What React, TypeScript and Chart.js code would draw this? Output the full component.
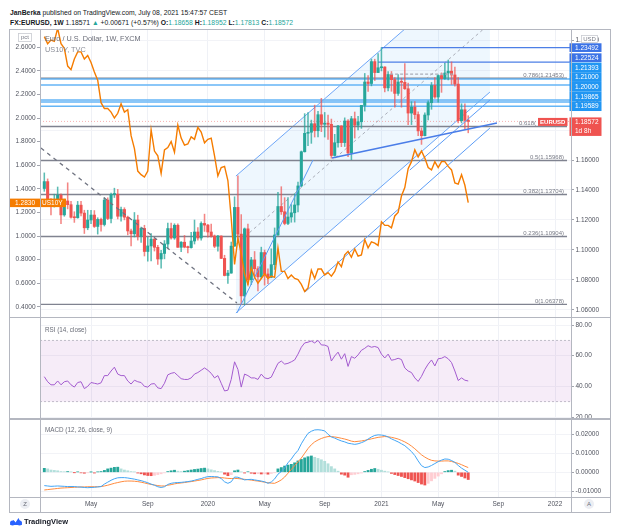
import React, { useEffect, useRef } from 'react';
import { Chart, registerables } from 'chart.js';

Chart.register(...registerables);

const FONT = '"Liberation Sans", Arial, sans-serif';

// ---------- time axis (week index 0 = week of 2019-01-28) ----------
const timeTickWeeks = [14, 31, 49, 66, 84, 101, 118, 136, 153];
const timeTickLabels = ['May', 'Sep', '2020', 'May', 'Sep', '2021', 'May', 'Sep', '2022'];

// ---------- EURUSD weekly candles ----------
const eurOpen = [
  1.1410, 1.1456, 1.1324, 1.1295, 1.1336, 1.1365, 1.1234, 1.1327, 1.1302, 1.1218,
  1.1215, 1.1299, 1.1246, 1.1148, 1.1200, 1.1233, 1.1157, 1.1204, 1.1170, 1.1333,
  1.1210, 1.1370, 1.1372, 1.1225, 1.1270, 1.1219, 1.1127, 1.1108, 1.1200, 1.1090,
  1.1144, 1.0990, 1.1027, 1.1073, 1.1018, 1.0940, 1.0977, 1.1040, 1.1143, 1.1080,
  1.1165, 1.1018, 1.1052, 1.1019, 1.1016, 1.1060, 1.1120, 1.1080, 1.1177, 1.1166,
  1.1120, 1.1093, 1.1025, 1.1093, 1.0944, 1.0830, 1.0846, 1.1026, 1.1284, 1.1106,
  1.0694, 1.1141, 1.0802, 1.0934, 1.0875, 1.0821, 1.0983, 1.0840, 1.0818, 1.0902,
  1.1100, 1.1290, 1.1255, 1.1177, 1.1220, 1.1248, 1.1300, 1.1427, 1.1655, 1.1778,
  1.1785, 1.1842, 1.1795, 1.1902, 1.1838, 1.1846, 1.1838, 1.1630, 1.1715, 1.1827,
  1.1716, 1.1860, 1.1647, 1.1875, 1.1832, 1.1855, 1.1964, 1.2120, 1.2110, 1.2256,
  1.2183, 1.2215, 1.2220, 1.2081, 1.2170, 1.2136, 1.2044, 1.2120, 1.2118, 1.2075,
  1.1913, 1.1952, 1.1903, 1.1794, 1.1762, 1.1900, 1.1982, 1.2097, 1.2020, 1.2163,
  1.2143, 1.2180, 1.2192, 1.2167, 1.2106, 1.1862, 1.1935, 1.18658,
];
const eurHigh = [
  1.1514, 1.1474, 1.1342, 1.1372, 1.1420, 1.1374, 1.1339, 1.1448, 1.1325, 1.1255,
  1.1324, 1.1324, 1.1265, 1.1265, 1.1264, 1.1263, 1.1215, 1.1212, 1.1348, 1.1348,
  1.1380, 1.1412, 1.1404, 1.1286, 1.1282, 1.1226, 1.1139, 1.1250, 1.1232, 1.1153,
  1.1165, 1.1085, 1.1110, 1.1075, 1.1031, 1.0997, 1.1063, 1.1179, 1.1179, 1.1175,
  1.1175, 1.1056, 1.1097, 1.1026, 1.1117, 1.1200, 1.1150, 1.1188, 1.1239, 1.1171,
  1.1173, 1.1100, 1.1097, 1.1095, 1.0965, 1.0864, 1.1053, 1.1355, 1.1495, 1.1236,
  1.1147, 1.1173, 1.0951, 1.0990, 1.0889, 1.1019, 1.1000, 1.0875, 1.1008, 1.1147,
  1.1384, 1.1422, 1.1349, 1.1349, 1.1303, 1.1375, 1.1452, 1.1660, 1.1909, 1.1916,
  1.1866, 1.1966, 1.1925, 1.2011, 1.1917, 1.1900, 1.1873, 1.1771, 1.1831, 1.1829,
  1.1881, 1.1870, 1.1891, 1.1920, 1.1891, 1.1964, 1.2177, 1.2163, 1.2273, 1.2272,
  1.2310, 1.2349, 1.2222, 1.2190, 1.2190, 1.2150, 1.2169, 1.2145, 1.2243, 1.2112,
  1.1989, 1.1990, 1.1921, 1.1814, 1.1914, 1.1994, 1.2117, 1.2150, 1.2167, 1.2181,
  1.2245, 1.2266, 1.2254, 1.2219, 1.2150, 1.1975, 1.1975, 1.18952,
];
const eurLow = [
  1.1391, 1.1320, 1.1234, 1.1286, 1.1331, 1.1176, 1.1225, 1.1274, 1.1213, 1.1184,
  1.1212, 1.1227, 1.1110, 1.1135, 1.1176, 1.1150, 1.1106, 1.1125, 1.1160, 1.1202,
  1.1181, 1.1350, 1.1207, 1.1193, 1.1201, 1.1101, 1.1027, 1.1087, 1.1066, 1.1051,
  1.0960, 1.0926, 1.0927, 1.0993, 1.0904, 1.0879, 1.0941, 1.1012, 1.1072, 1.1071,
  1.1018, 1.0989, 1.1014, 1.0981, 1.1012, 1.1040, 1.1066, 1.1066, 1.1124, 1.1086,
  1.1086, 1.1015, 1.0992, 1.0942, 1.0827, 1.0778, 1.0845, 1.1024, 1.1053, 1.0636,
  1.0637, 1.0768, 1.0769, 1.0812, 1.0727, 1.0809, 1.0766, 1.0775, 1.0815, 1.0870,
  1.1097, 1.1237, 1.1168, 1.1169, 1.1185, 1.1186, 1.1254, 1.1421, 1.1653, 1.1696,
  1.1711, 1.1753, 1.1754, 1.1789, 1.1753, 1.1737, 1.1612, 1.1626, 1.1686, 1.1689,
  1.1690, 1.1622, 1.1602, 1.1746, 1.1800, 1.1811, 1.1926, 1.2058, 1.2094, 1.2130,
  1.2182, 1.2194, 1.2054, 1.2060, 1.2058, 1.1952, 1.2030, 1.1952, 1.2070, 1.1835,
  1.1836, 1.1874, 1.1762, 1.1704, 1.1760, 1.1867, 1.1938, 1.2011, 1.1985, 1.2051,
  1.2137, 1.2134, 1.2104, 1.2093, 1.1847, 1.1847, 1.1807, 1.17813,
];
const eurClose = [
  1.1456, 1.1324, 1.1295, 1.1336, 1.1365, 1.1234, 1.1327, 1.1302, 1.1218, 1.1215,
  1.1299, 1.1246, 1.1148, 1.1200, 1.1233, 1.1157, 1.1204, 1.1170, 1.1333, 1.1210,
  1.1370, 1.1372, 1.1225, 1.1270, 1.1219, 1.1127, 1.1108, 1.1200, 1.1090, 1.1144,
  1.0990, 1.1027, 1.1073, 1.1018, 1.0940, 1.0977, 1.1040, 1.1143, 1.1080, 1.1165,
  1.1018, 1.1052, 1.1019, 1.1016, 1.1060, 1.1120, 1.1080, 1.1177, 1.1166, 1.1120,
  1.1093, 1.1025, 1.1093, 1.0944, 1.0830, 1.0846, 1.1026, 1.1284, 1.1106, 1.0694,
  1.1141, 1.0802, 1.0934, 1.0875, 1.0821, 1.0983, 1.0840, 1.0818, 1.0902, 1.1100,
  1.1290, 1.1255, 1.1177, 1.1220, 1.1248, 1.1300, 1.1427, 1.1655, 1.1778, 1.1785,
  1.1842, 1.1795, 1.1902, 1.1838, 1.1846, 1.1838, 1.1630, 1.1715, 1.1827, 1.1716,
  1.1860, 1.1647, 1.1875, 1.1832, 1.1855, 1.1964, 1.2120, 1.2110, 1.2256, 1.2183,
  1.2215, 1.2220, 1.2081, 1.2170, 1.2136, 1.2044, 1.2120, 1.2118, 1.2075, 1.1913,
  1.1952, 1.1903, 1.1794, 1.1762, 1.1900, 1.1982, 1.2097, 1.2020, 1.2163, 1.2143,
  1.2180, 1.2192, 1.2167, 1.2106, 1.1862, 1.1935, 1.1864, 1.18572,
];

// ---------- US10Y weekly (pct, left scale) ----------
const us10y = [
  2.69, 2.63, 2.66, 2.65, 2.76, 2.63, 2.59, 2.44, 2.41, 2.50,
  2.56, 2.56, 2.50, 2.53, 2.47, 2.39, 2.32, 2.13, 2.08, 2.08,
  2.05, 2.00, 2.04, 2.12, 2.05, 2.07, 1.85, 1.74, 1.55, 1.52,
  1.50, 1.55, 1.90, 1.72, 1.68, 1.53, 1.73, 1.75, 1.80, 1.71,
  1.94, 1.83, 1.77, 1.78, 1.84, 1.82, 1.92, 1.88, 1.79, 1.82,
  1.83, 1.68, 1.51, 1.58, 1.59, 1.47, 1.15, 0.76, 0.98, 0.85,
  0.68, 0.59, 0.73, 0.65, 0.60, 0.64, 0.68, 0.64, 0.66, 0.65,
  0.90, 0.70, 0.70, 0.64, 0.67, 0.64, 0.63, 0.59, 0.53, 0.56,
  0.71, 0.64, 0.72, 0.72, 0.67, 0.69, 0.66, 0.70, 0.78, 0.74,
  0.84, 0.87, 0.82, 0.89, 0.83, 0.84, 0.97, 0.90, 0.95, 0.94,
  0.92, 1.12, 1.09, 1.09, 1.07, 1.17, 1.20, 1.34, 1.41, 1.57,
  1.63, 1.73, 1.67, 1.72, 1.66, 1.58, 1.56, 1.63, 1.58, 1.63,
  1.63, 1.59, 1.56, 1.45, 1.44, 1.52, 1.43, 1.283,
];

// ---------- RSI(14) ----------
const rsi = [
  46.3, 43, 41, 41, 43.5, 41, 43, 43.5, 41, 39.5,
  42.5, 43, 38.5, 40, 42.5, 42, 41.5, 42.3, 47, 47,
  50, 52.5, 48, 47, 47, 43.5, 41.5, 44, 43, 42.5,
  40, 39.5, 41.5, 41.8, 39, 38.5, 42, 47.5, 48.5, 49,
  47, 45, 44.5, 44.5, 45.5, 48, 49, 50.5, 52, 50.5,
  48.5, 45.5, 47, 42, 37, 37.5, 44.5, 56, 51, 39.5,
  48, 47, 45.5, 45.5, 44.5, 48, 45.5, 45, 46, 50.5,
  55, 56.5, 54.5, 55, 56, 57.2, 61, 65.5, 68.3, 68.8,
  69.6, 68.3, 70, 67, 66.9, 66, 56.5, 59.8, 62.3, 57.7,
  61.3, 53, 59.4, 58.3, 60.5, 63.5, 64.8, 66.5, 65.5, 66,
  65.3, 61, 58.5, 61, 57, 57.5, 58.3, 57.5, 52, 50,
  49, 45.5, 43.2, 46.5, 51, 54.5, 57.2, 53.3, 58, 58.3,
  59.4, 58, 55.5, 50, 43.8, 45.5, 44, 43.5,
];

// ---------- MACD(12, 26, close, 9) ----------
const macdLine = [
  -0.0070, -0.0072, -0.0074, -0.0073, -0.0072, -0.0073, -0.0074, -0.0075, -0.0075, -0.0075,
  -0.0077, -0.0078, -0.0080, -0.0081, -0.0080, -0.0079, -0.0077, -0.0075, -0.0062, -0.0052,
  -0.0042, -0.0034, -0.0029, -0.0028, -0.0028, -0.0030, -0.0033, -0.0036, -0.0040, -0.0044,
  -0.0049, -0.0055, -0.0062, -0.0068, -0.0076, -0.0080, -0.0076, -0.0064, -0.0058, -0.0055,
  -0.0054, -0.0053, -0.0051, -0.0049, -0.0046, -0.0042, -0.0037, -0.0033, -0.0027, -0.0023,
  -0.0022, -0.0023, -0.0024, -0.0033, -0.0050, -0.0058, -0.0050, -0.0025, -0.0026, -0.0033,
  -0.0040, -0.0038, -0.0037, -0.0040, -0.0043, -0.0046, -0.0050, -0.0058, -0.0051, -0.0035,
  -0.0010, 0.0004, 0.0022, 0.0050, 0.0070, 0.0095, 0.0115, 0.0150, 0.0179, 0.0205,
  0.0216, 0.0223, 0.0224, 0.0222, 0.0218, 0.0200, 0.0186, 0.0180, 0.0172, 0.0165,
  0.0160, 0.0153, 0.0150, 0.0147, 0.0150, 0.0156, 0.0163, 0.0175, 0.0186, 0.0194,
  0.0197, 0.0196, 0.0193, 0.0186, 0.0176, 0.0168, 0.0160, 0.0150, 0.0140, 0.0125,
  0.0109, 0.0088, 0.0060, 0.0035, 0.0025, 0.0028, 0.0036, 0.0046, 0.0056, 0.0064,
  0.0070, 0.0069, 0.0062, 0.0052, 0.0036, 0.0022, 0.0011, 0.0000,
];
const macdSignal = [
  -0.0093, -0.0091, -0.0089, -0.0087, -0.0085, -0.0083, -0.0082, -0.0081, -0.0080, -0.0079,
  -0.0078, -0.0077, -0.0077, -0.0076, -0.0076, -0.0076, -0.0076, -0.0075, -0.0072, -0.0068,
  -0.0063, -0.0058, -0.0054, -0.0050, -0.0047, -0.0046, -0.0046, -0.0047, -0.0049, -0.0052,
  -0.0056, -0.0060, -0.0064, -0.0067, -0.0070, -0.0072, -0.0072, -0.0068, -0.0065, -0.0061,
  -0.0058, -0.0056, -0.0054, -0.0051, -0.0049, -0.0046, -0.0043, -0.0040, -0.0036, -0.0032,
  -0.0030, -0.0029, -0.0028, -0.0028, -0.0030, -0.0032, -0.0033, -0.0032, -0.0033, -0.0035,
  -0.0037, -0.0039, -0.0041, -0.0044, -0.0046, -0.0049, -0.0052, -0.0055, -0.0057, -0.0058,
  -0.0050, -0.0040, -0.0025, -0.0005, 0.0015, 0.0035, 0.0055, 0.0075, 0.0100, 0.0125,
  0.0145, 0.0160, 0.0170, 0.0178, 0.0184, 0.0188, 0.0188, 0.0186, 0.0183, 0.0179,
  0.0175, 0.0170, 0.0164, 0.0161, 0.0163, 0.0165, 0.0168, 0.0172, 0.0176, 0.0180,
  0.0184, 0.0186, 0.0188, 0.0187, 0.0184, 0.0180, 0.0175, 0.0168, 0.0160, 0.0150,
  0.0138, 0.0124, 0.0108, 0.0092, 0.0080, 0.0070, 0.0063, 0.0060, 0.0059, 0.0059,
  0.0060, 0.0060, 0.0057, 0.0052, 0.0047, 0.0040, 0.0032, 0.0025,
];
const macdHist = [
  0.0021, 0.0018, 0.0012, 0.0010, 0.0008, 0.0004, 0.0003, 0.0004, 0.0002, -0.0001,
  0.0002, -0.0003, -0.0005, -0.0002, 0.0001, -0.0004, 0.0002, 0.0004, 0.0010, 0.0018,
  0.0022, 0.0026, 0.0027, 0.0018, 0.0012, 0.0008, 0.0004, 0.0002, -0.0004, -0.0008,
  -0.0014, -0.0017, -0.0018, -0.0016, -0.0012, -0.0008, -0.0003, 0.0004, 0.0008, 0.0011,
  0.0006, 0.0004, 0.0006, 0.0009, 0.0012, 0.0015, 0.0017, 0.0020, 0.0022, 0.0018,
  0.0013, 0.0009, 0.0005, 0.0002, -0.0010, -0.0018, -0.0012, 0.0008, 0.0012, 0.0002,
  -0.0004, 0.0003, -0.0005, -0.0008, -0.0007, -0.0009, -0.0008, -0.0010, -0.0006, -0.0002,
  0.0018, 0.0025, 0.0033, 0.0038, 0.0042, 0.0050, 0.0060, 0.0068, 0.0076, 0.0082,
  0.0086, 0.0079, 0.0073, 0.0066, 0.0058, 0.0045, 0.0030, 0.0018, 0.0006, -0.0010,
  -0.0015, -0.0026, -0.0013, -0.0011, -0.0008, -0.0004, 0.0004, 0.0010, 0.0016, 0.0020,
  0.0016, 0.0011, 0.0006, 0.0002, -0.0006, -0.0012, -0.0017, -0.0022, -0.0028, -0.0034,
  -0.0040, -0.0046, -0.0054, -0.0062, -0.0067, -0.0058, -0.0045, -0.0032, -0.0020, -0.0008,
  0.0004, 0.0009, 0.0011, 0.0006, -0.0015, -0.0022, -0.0030, -0.0038,
];

// ---------- axis ticks ----------
const usdTicks = [1.06, 1.08, 1.10, 1.12, 1.14, 1.16, 1.18, 1.20, 1.22, 1.24];
const pctTicks = [0.4, 0.6, 0.8, 1.0, 1.2, 1.4, 1.6, 1.8, 2.0, 2.2, 2.4, 2.6];
const rsiTicks = [20, 40, 60, 80];
const macdTicks = [-0.01, 0, 0.01, 0.02];

// ---------- user drawings: [week index, price] ----------
const fibRatios = ['0', '0.236', '0.382', '0.5', '0.618', '0.786'];
const fibPrices = [1.06378, 1.10904, 1.13704, 1.15968, 1.18231, 1.21453];
const levelPrices = [1.23492, 1.22524, 1.21393, 1.21, 1.2, 1.19865, 1.19589];
const levelStartWeeks = [101, 100, -2, -2, -2, -2, -2];
const channelUpper = [[57.4, 1.1493], [133.5, 1.2967]];
const channelLower = [[57.4, 1.058], [133.5, 1.2053]];
const channelMid = [[57.4, 1.1037], [133.5, 1.251]];
const downTrend = [[-1.0, 1.168], [57.7, 1.0647]];
const steepLine = [[57.7, 1.058], [80.5, 1.16]];
const supportLine = [[86.2, 1.1613], [135.6, 1.1847]];
const rangeTop = [[103.6, 1.2173], [123.0, 1.2173]];
const lowerRayA = [[78.1, 1.072], [133.5, 1.1813]];
const lowerRayB = [[109.5, 1.1533], [133.5, 1.2]];
const lastPrice = 1.18572;
const lastUs10y = 1.283;

// ---------- layout constants ----------
const X_MIN = -1.29;
const X_MAX = 157.79;
const FIB_END = 156.6;
const GREEN = '#26a69a';
const RED = '#ef5350';

const pts = (arr: number[][]) => arr.map((p) => ({ x: p[0], y: p[1] }));

function xScale(showLabels: boolean): any {
  return {
    type: 'linear',
    min: X_MIN,
    max: X_MAX,
    offset: false,
    afterBuildTicks: (s: any) => {
      s.ticks = timeTickWeeks.map((v) => ({ value: v }));
    },
    afterFit: (s: any) => {
      s.height = showLabels ? 15 : 0;
      s.paddingLeft = 0;
      s.paddingRight = 0;
    },
    grid: { color: '#eff1f6', drawTicks: false, offset: false },
    border: { display: false },
    ticks: {
      display: showLabels,
      autoSkip: false,
      maxRotation: 0,
      padding: 3.5,
      color: '#50535e',
      font: { size: 6.5, family: FONT },
      callback: (_v: any, i: number) => timeTickLabels[i],
    },
  };
}

function yFit(width: number) {
  return (s: any) => {
    s.width = width;
    s.paddingTop = 0;
    s.paddingBottom = 0;
  };
}

function rightScale(min: number, max: number, ticks: number[], digits: number): any {
  return {
    type: 'linear',
    position: 'right',
    min,
    max,
    afterBuildTicks: (s: any) => {
      s.ticks = ticks.map((v) => ({ value: v }));
    },
    afterFit: yFit(40),
    grid: { color: '#f2f3f7', drawTicks: true, tickLength: 3, tickColor: '#a3a6af' },
    border: { display: false },
    ticks: {
      padding: 1.5,
      color: '#50535e',
      font: { size: 6.5, family: FONT },
      callback: (v: any) => Number(v).toFixed(digits),
    },
  };
}

function lineDs(data: any[], color: string, width: number, order: number, extra: any = {}): any {
  return {
    type: 'line',
    data,
    xAxisID: 'x',
    yAxisID: 'usd',
    borderColor: color,
    borderWidth: width,
    pointRadius: 0,
    tension: 0,
    fill: false,
    order,
    ...extra,
  };
}

const mainOverlay = {
  id: 'mainOverlay',
  afterDraw(chart: any) {
    const { ctx, chartArea: a, scales } = chart;
    const usd = scales.usd;
    const pct = scales.pct;
    const xs = scales.x;
    ctx.save();
    // fib labels
    ctx.font = `6px ${FONT}`;
    ctx.fillStyle = '#787b86';
    ctx.textAlign = 'right';
    ctx.textBaseline = 'alphabetic';
    const fx = xs.getPixelForValue(FIB_END) - 3;
    fibPrices.forEach((p, i) => {
      if (i === 4) return;
      ctx.fillText(`${fibRatios[i]}(${p.toFixed(5)})`, fx, usd.getPixelForValue(p) - 1.5);
    });
    ctx.fillText('0.618(', fx - 28, usd.getPixelForValue(fibPrices[4]) - 1.5);

    // level boxes on the price axis, stacked bottom-up
    const H = 9.7;
    const pos = levelPrices.map((p) => usd.getPixelForValue(p));
    for (let i = pos.length - 2; i >= 0; i--) pos[i] = Math.min(pos[i], pos[i + 1] - H);
    levelPrices.forEach((p, i) => {
      ctx.fillStyle = i < 2 ? '#3c73e6' : '#2196f3';
      ctx.fillRect(a.right - 1.5, pos[i] - H / 2 + (i < 2 ? 0.5 : 0), 32, H - (i < 2 ? 1 : 0));
    });
    ctx.font = `6.5px ${FONT}`;
    ctx.fillStyle = '#ffffff';
    ctx.textAlign = 'left';
    ctx.textBaseline = 'middle';
    levelPrices.forEach((p, i) => ctx.fillText(p.toFixed(5), a.right + 4, pos[i] + 0.5));

    // last price label
    const ly = usd.getPixelForValue(lastPrice);
    ctx.fillStyle = RED;
    ctx.fillRect(a.right - 1.5, ly - 4, 32, 18.5);
    ctx.fillRect(a.right - 33, ly - 3.5, 29.5, 8);
    ctx.fillStyle = '#ffffff';
    ctx.fillText(lastPrice.toFixed(5), a.right + 4, ly + 0.5);
    ctx.fillText('1d 8h', a.right + 4, ly + 9.5);
    ctx.font = `bold 6px ${FONT}`;
    ctx.textAlign = 'center';
    ctx.fillText('EURUSD', a.right - 18.25, ly + 0.7);

    // US10Y label
    const uy = pct.getPixelForValue(lastUs10y);
    ctx.fillStyle = '#f57c00';
    ctx.fillRect(0, uy - 4, a.left, 8.5);
    ctx.fillRect(a.left, uy - 4, 26, 8.5);
    ctx.fillStyle = '#ffffff';
    ctx.font = `6.5px ${FONT}`;
    ctx.textAlign = 'right';
    ctx.fillText(lastUs10y.toFixed(4), a.left - 5, uy + 0.5);
    ctx.textAlign = 'left';
    ctx.fillText('US10Y', a.left + 2, uy + 0.5);

    // scale unit boxes
    ctx.fillStyle = '#ffffff';
    ctx.strokeStyle = '#c9cbd2';
    ctx.lineWidth = 0.8;
    ctx.fillRect(9, 3, 14, 9);
    ctx.strokeRect(9.5, 3.5, 13, 8);
    ctx.fillRect(a.right + 10, 5, 17, 8);
    ctx.strokeRect(a.right + 10.5, 5.5, 16, 7);
    ctx.fillStyle = '#787b86';
    ctx.textAlign = 'center';
    ctx.font = `6px ${FONT}`;
    ctx.fillText('pct', 16, 7.7);
    ctx.fillText('USD', a.right + 18.5, 9.2);
    ctx.restore();
  },
};

function mainConfig(): any {
  const bodyColors = eurClose.map((c, i) => (c >= eurOpen[i] ? GREEN : RED));
  const wickColors = eurClose.map((c, i) => (c >= eurOpen[i] ? 'rgba(38,166,154,0.75)' : 'rgba(239,83,80,0.7)'));
  const datasets: any[] = [];
  datasets.push(
    lineDs(pts(channelUpper), '#6ea6f7', 1, 40, { fill: 1, backgroundColor: 'rgba(33,150,243,0.075)' }),
  );
  datasets.push(lineDs(pts(channelLower), '#6ea6f7', 1, 40));
  datasets.push(lineDs(pts(channelMid), '#a9adb8', 1, 39, { borderDash: [3, 3] }));
  fibPrices.forEach((p) => {
    datasets.push(lineDs([{ x: X_MIN, y: p }, { x: FIB_END, y: p }], '#808390', 1.4, 30));
  });
  levelPrices.forEach((p, i) => {
    datasets.push(
      lineDs([{ x: levelStartWeeks[i], y: p }, { x: X_MAX, y: p }], i < 2 ? '#4d7fe6' : '#64b5f6', i < 2 ? 1.3 : 1.5, 29),
    );
  });
  datasets.push(
    lineDs([{ x: X_MIN, y: lastPrice }, { x: X_MAX, y: lastPrice }], 'rgba(239,83,80,0.55)', 0.8, 28, {
      borderDash: [1, 2],
    }),
  );
  datasets.push({
    type: 'bar',
    data: eurHigh.map((h, i) => ({ x: i, y: [eurLow[i], h] })),
    xAxisID: 'x',
    yAxisID: 'usd',
    backgroundColor: wickColors,
    borderWidth: 0,
    barThickness: 0.9,
    grouped: false,
    order: 12,
  });
  datasets.push({
    type: 'bar',
    data: eurClose.map((c, i) => ({ x: i, y: [eurOpen[i], c] })),
    xAxisID: 'x',
    yAxisID: 'usd',
    backgroundColor: bodyColors,
    borderWidth: 0,
    barThickness: 2.4,
    minBarLength: 1,
    grouped: false,
    order: 11,
  });
  datasets.push(lineDs(pts(downTrend), '#6f7380', 1.3, 5, { borderDash: [4, 4] }));
  datasets.push(lineDs(pts(steepLine), '#5b9cf6', 1, 5));
  datasets.push(lineDs(pts(supportLine), '#4a7de8', 1.6, 5));
  datasets.push(lineDs(pts(rangeTop), '#a9adb8', 1.2, 5, { borderDash: [3, 2] }));
  datasets.push(lineDs(pts(lowerRayA), '#5b9cf6', 1, 5));
  datasets.push(lineDs(pts(lowerRayB), '#5b9cf6', 1, 5));
  datasets.push({
    type: 'line',
    data: us10y.map((v, i) => ({ x: i, y: v })),
    xAxisID: 'x',
    yAxisID: 'pct',
    borderColor: '#f57c00',
    borderWidth: 1.4,
    pointRadius: 0,
    tension: 0,
    fill: false,
    order: 2,
  });

  const pctScale: any = {
    type: 'linear',
    position: 'left',
    min: 0.3136,
    max: 2.7458,
    afterBuildTicks: (s: any) => {
      s.ticks = pctTicks.map((v) => ({ value: v }));
    },
    afterFit: yFit(31),
    grid: { drawOnChartArea: false, drawTicks: true, tickLength: 3, tickColor: '#a3a6af' },
    border: { display: false },
    ticks: {
      padding: 1.5,
      color: '#50535e',
      font: { size: 6.5, family: FONT },
      callback: (v: any) => Number(v).toFixed(4),
    },
  };

  return {
    type: 'bar',
    data: { datasets },
    options: {
      animation: false,
      responsive: false,
      maintainAspectRatio: false,
      layout: { padding: 0, autoPadding: false },
      plugins: { legend: { display: false }, tooltip: { enabled: false } },
      scales: {
        x: xScale(false),
        usd: rightScale(1.05533, 1.24667, usdTicks, 5),
        pct: pctScale,
      },
    },
    plugins: [mainOverlay],
  };
}

function rsiConfig(): any {
  return {
    type: 'line',
    data: {
      datasets: [
        {
          data: [{ x: X_MIN, y: 70 }, { x: X_MAX, y: 70 }],
          yAxisID: 'y',
          borderColor: 'rgba(120,123,134,0.55)',
          borderWidth: 0.8,
          borderDash: [2, 2],
          pointRadius: 0,
          fill: 1,
          backgroundColor: 'rgba(156,39,176,0.09)',
          order: 5,
        },
        {
          data: [{ x: X_MIN, y: 30 }, { x: X_MAX, y: 30 }],
          yAxisID: 'y',
          borderColor: 'rgba(120,123,134,0.55)',
          borderWidth: 0.8,
          borderDash: [2, 2],
          pointRadius: 0,
          fill: false,
          order: 5,
        },
        {
          data: rsi.map((v, i) => ({ x: i, y: v })),
          yAxisID: 'y',
          borderColor: '#a35bcf',
          borderWidth: 1,
          pointRadius: 0,
          tension: 0,
          fill: false,
          order: 1,
        },
      ],
    },
    options: {
      animation: false,
      responsive: false,
      maintainAspectRatio: false,
      layout: { padding: { left: 31, right: 0, top: 0, bottom: 0 }, autoPadding: false },
      plugins: { legend: { display: false }, tooltip: { enabled: false } },
      scales: {
        x: xScale(false),
        y: rightScale(18.7, 84.57, rsiTicks, 2),
      },
    },
  };
}

function macdConfig(): any {
  const histColors = macdHist.map((h, i) => {
    const prev = i > 0 ? macdHist[i - 1] : h;
    if (h >= 0) return h >= prev ? GREEN : '#b2dfdb';
    return h < prev ? RED : '#ffcdd2';
  });
  return {
    type: 'bar',
    data: {
      datasets: [
        {
          type: 'bar',
          data: macdHist.map((v, i) => ({ x: i, y: v })),
          yAxisID: 'y',
          backgroundColor: histColors,
          borderWidth: 0,
          barThickness: 2.2,
          grouped: false,
          order: 3,
        },
        {
          type: 'line',
          data: macdSignal.map((v, i) => ({ x: i, y: v })),
          yAxisID: 'y',
          borderColor: '#ff8a3d',
          borderWidth: 1,
          pointRadius: 0,
          tension: 0,
          fill: false,
          order: 2,
        },
        {
          type: 'line',
          data: macdLine.map((v, i) => ({ x: i, y: v })),
          yAxisID: 'y',
          borderColor: '#42a5f5',
          borderWidth: 1,
          pointRadius: 0,
          tension: 0,
          fill: false,
          order: 1,
        },
      ],
    },
    options: {
      animation: false,
      responsive: false,
      maintainAspectRatio: false,
      layout: { padding: { left: 31, right: 0, top: 0, bottom: 0 }, autoPadding: false },
      plugins: { legend: { display: false }, tooltip: { enabled: false } },
      scales: {
        x: xScale(true),
        y: rightScale(-0.013, 0.02805, macdTicks, 5),
      },
    },
  };
}

const FRAME = '#b4b7c0';

export default function App() {
  const mainRef = useRef<HTMLCanvasElement>(null);
  const rsiRef = useRef<HTMLCanvasElement>(null);
  const macdRef = useRef<HTMLCanvasElement>(null);

  useEffect(() => {
    const charts: any[] = [];
    if (mainRef.current) charts.push(new Chart(mainRef.current, mainConfig()));
    if (rsiRef.current) charts.push(new Chart(rsiRef.current, rsiConfig()));
    if (macdRef.current) charts.push(new Chart(macdRef.current, macdConfig()));
    return () => charts.forEach((c) => c.destroy());
  }, []);

  const abs = (l: number, t: number, w: number, h: number, extra: any = {}): any => ({
    position: 'absolute',
    left: l,
    top: t,
    width: w,
    height: h,
    ...extra,
  });
  const teal = { color: '#26a69a' };

  return (
    <div
      style={{
        position: 'fixed',
        left: 0,
        top: 0,
        width: 624,
        height: 528,
        background: '#ffffff',
        fontFamily: FONT,
        color: '#131722',
        overflow: 'hidden',
      }}
    >
      <div style={{ position: 'absolute', left: 10, top: 9, fontSize: 6.8, whiteSpace: 'nowrap', lineHeight: '8px' }}>
        <b>JanBerka</b> published on TradingView.com, July 08, 2021 15:47:57 CEST
      </div>
      <div style={{ position: 'absolute', left: 10, top: 19, fontSize: 6.8, whiteSpace: 'nowrap', lineHeight: '8px' }}>
        <b>FX:EURUSD, 1W</b> 1.18571 <span style={teal}>▲</span> +0.00671 (+0.57%) <b>O:</b>
        <span style={teal}>1.18658</span> <b>H:</b>
        <span style={teal}>1.18952</span> <b>L:</b>
        <span style={teal}>1.17813</span> <b>C:</b>
        <span style={teal}>1.18572</span>
      </div>

      <canvas ref={mainRef} width={602} height={287} style={abs(9, 30, 602, 287)} />
      <canvas ref={rsiRef} width={602} height={101} style={abs(9, 318, 602, 101)} />
      <canvas ref={macdRef} width={602} height={93} style={abs(9, 419, 602, 93)} />

      {/* frame */}
      <div style={abs(9, 29, 602, 1, { background: FRAME })} />
      <div style={abs(9, 512, 602, 1, { background: FRAME })} />
      <div style={abs(9, 29, 1, 484, { background: FRAME })} />
      <div style={abs(610, 29, 1, 484, { background: FRAME })} />
      <div style={abs(40, 29, 1, 484, { background: FRAME })} />
      <div style={abs(571, 29, 1, 484, { background: FRAME })} />
      <div style={abs(9, 317, 602, 1.3, { background: FRAME })} />
      <div style={abs(9, 418.3, 602, 1.3, { background: FRAME })} />
      <div style={abs(9, 497, 602, 1, { background: FRAME })} />

      {/* legends */}
      <div style={{ position: 'absolute', left: 45, top: 34, fontSize: 7.3, color: '#6a6d78', lineHeight: '9px' }}>
        Euro / U.S. Dollar, 1W, FXCM
      </div>
      <div style={{ position: 'absolute', left: 45, top: 45, fontSize: 7.3, color: '#8a8d97', lineHeight: '9px' }}>
        US10Y, TVC
      </div>
      <div style={{ position: 'absolute', left: 45, top: 326, fontSize: 6.3, color: '#6a6d78', lineHeight: '8px' }}>
        RSI (14, close)
      </div>
      <div style={{ position: 'absolute', left: 45, top: 426, fontSize: 6.3, color: '#6a6d78', lineHeight: '8px' }}>
        MACD (12, 26, close, 9)
      </div>

      {/* time axis buttons */}
      <div
        style={abs(20, 499, 10, 10, {
          borderRadius: 5,
          background: '#eceef3',
          fontSize: 6,
          color: '#6a6d78',
          textAlign: 'center',
          lineHeight: '10px',
        })}
      >
        Z
      </div>
      <div
        style={abs(584, 499, 10, 10, {
          borderRadius: 5,
          background: '#eceef3',
          fontSize: 6,
          color: '#6a6d78',
          textAlign: 'center',
          lineHeight: '10px',
        })}
      >
        A
      </div>

      {/* logo */}
      <svg style={{ position: 'absolute', left: 9, top: 517 }} width={14} height={9} viewBox="0 0 14 9">
        <path d="M1 8 L4.5 3 L6.5 5.5 L9.5 1 L13 8 Z" fill="#2962ff" />
        <circle cx="3.5" cy="6" r="2.5" fill="#2962ff" />
        <circle cx="10.5" cy="6" r="2.5" fill="#2962ff" />
      </svg>
      <div style={{ position: 'absolute', left: 24, top: 517, fontSize: 7.5, fontWeight: 600, color: '#131722', lineHeight: '9px' }}>
        TradingView
      </div>
    </div>
  );
}
